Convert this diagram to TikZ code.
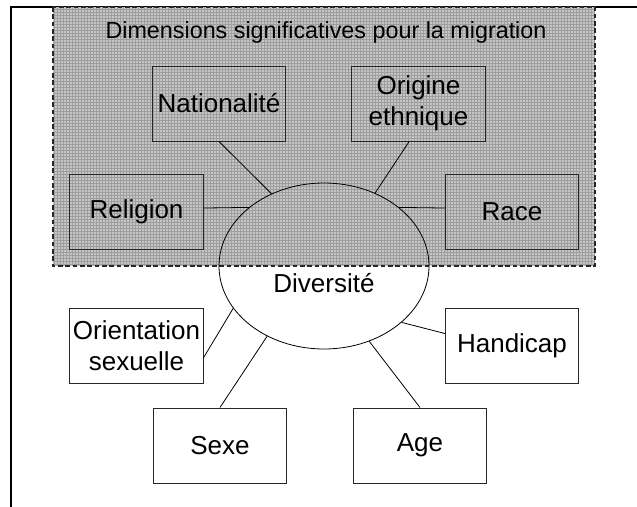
\documentclass[tikz,border=0pt]{standalone}
\usepackage{fontspec}
\setmainfont{Liberation Sans}
\usetikzlibrary{shapes.geometric,calc}
\begin{document}
\begin{tikzpicture}[x={(0.75pt,0)}, y={(0,-0.75pt)},
  box/.style={draw=black!85, line width=0.75pt, minimum width=100pt, minimum height=56.25pt,
    inner sep=0pt, align=center, font=\fontsize{19.5}{23.5}\selectfont},
  link/.style={draw=black, line width=0.6pt},
  zone/.style={draw=black!85, line width=1pt, dash pattern=on 3.5pt off 2pt},
  frameline/.style={draw=black, line width=1pt},
  gridline/.style={draw=black!38, line width=0.3pt}]
\useasboundingbox (0,0) rectangle (637,507);
% frame
\draw[frameline] (11,507) -- (11,7) -- (637,7);
% shaded zone
\fill[gray!45] (53,7) rectangle (595,266);
\begin{scope}
  \clip (53,7) rectangle (595,266);
  \draw[gridline, step=2.25pt] (53,266) grid (595,7);
\end{scope}
\draw[zone] (53,7) rectangle (595,266);
\node[font=\fontsize{17.5}{21}\selectfont] (title) at (326,32) {Dimensions significatives pour la migration};
% boxes
\node[box] (nat) at (219,103.5) {Nationalité};
\node[box] (ori) at (418.5,103.5) {Origine\\ethnique};
\node[box] (rel) at (136.5,211.5) {Religion};
\node[box] (race) at (512,211.5) {Race};
\node[box] (ors) at (136.5,345.5) {Orientation\\sexuelle};
\node[box] (hand) at (512,345.5) {Handicap};
\node[box] (sexe) at (220,445.5) {Sexe};
\node[box] (age) at (420,445.5) {Age};
% ellipse
\node[ellipse, draw=black, line width=0.6pt, minimum width=157.5pt, minimum height=124.5pt, inner sep=0pt,
  label={[font=\fontsize{19.5}{23.5}\selectfont, yshift=-12.75pt]center:Diversité}] (div) at (324,266) {};
% connectors
\draw[link] (nat.south) -- (div.126);
\draw[link] ([xshift=-7pt]ori.south) -- (div.55);
\draw[link] ([yshift=2.6pt]rel.east) -- (div.142);
\draw[link] ([yshift=2.6pt]race.west) -- (div.38);
\draw[link] ([yshift=-9pt]ors.east) -- (div.205.5);
\draw[link] ([yshift=9pt]hand.west) -- (div.324);
\draw[link] (sexe.north) -- (div.231);
\draw[link] (age.north) -- (div.301);
\end{tikzpicture}
\end{document}
